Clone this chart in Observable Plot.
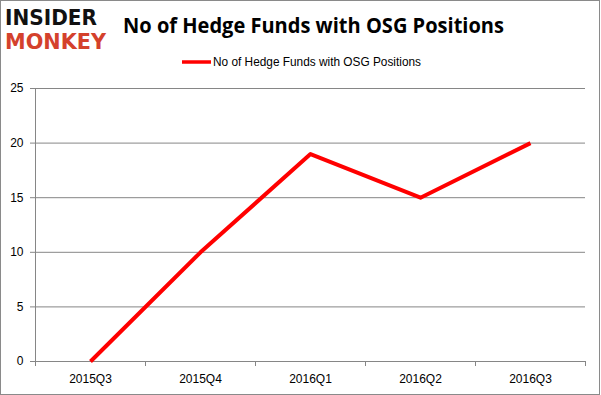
<!DOCTYPE html>
<html>
<head>
<meta charset="utf-8">
<script src="https://cdn.jsdelivr.net/npm/d3@7"></script>
<script src="https://cdn.jsdelivr.net/npm/@observablehq/plot@0.6"></script>
<style>
  html, body { margin: 0; padding: 0; background: #fff; }
  #wrap { position: relative; width: 601px; height: 395px; overflow: hidden; background: #fff; }
  #frame { position: absolute; left: 0; top: 0; width: 600px; height: 395px; box-sizing: border-box; border: 1px solid #8a8a8a; pointer-events: none; }
  #header { display: block; }
  #chart svg { display: block; }
  #chart g[aria-label*="axis"] line, #chart g[aria-label*="axis"] path { stroke: #868686; stroke-opacity: 1; }
  #chart g[aria-label*="axis"] text { fill: #000; }
</style>
</head>
<body>
<div id="wrap">
  <svg id="header" width="601" height="75">
    <text x="5" y="25" font-family="DejaVu Sans" font-weight="bold" font-size="22" fill="#111" textLength="92" lengthAdjust="spacingAndGlyphs">INSIDER</text>
    <text x="5" y="49" font-family="DejaVu Sans" font-weight="bold" font-size="22" fill="#d4412c" textLength="101" lengthAdjust="spacingAndGlyphs">MONKEY</text>
    <text x="123" y="33" font-family="Open Sans" font-weight="bold" font-size="22" fill="#000" textLength="381" lengthAdjust="spacingAndGlyphs">No of Hedge Funds with OSG Positions</text>
    <line x1="182" x2="211" y1="62" y2="62" stroke="#ff0000" stroke-width="3.5"/>
    <text x="213" y="66" font-family="Liberation Sans" font-size="12" fill="#000" textLength="208" lengthAdjust="spacingAndGlyphs">No of Hedge Funds with OSG Positions</text>
  </svg>
  <div id="chart"></div>
  <div id="frame"></div>
</div>
<script>
const quarters = ["2015Q3", "2015Q4", "2016Q1", "2016Q2", "2016Q3"];
const funds = [0, 10, 19, 15, 20];
const yTicks = [0, 5, 10, 15, 20, 25];

const data = quarters.map((q, i) => ({i, q, v: funds[i]}));
const boundaries = d3.range(quarters.length + 1).map(i => i - 0.5);

const chart = Plot.plot({
  width: 601,
  height: 320,
  marginTop: 13,
  marginBottom: 34,
  marginLeft: 35,
  marginRight: 16,
  style: {fontFamily: "'Liberation Sans', Arial, sans-serif", fontSize: "12px", color: "#000", background: "transparent"},
  x: {type: "linear", domain: [-0.5, quarters.length - 0.5], ticks: boundaries, tickFormat: () => "", tickSize: 5, label: null},
  y: {domain: [0, 25], ticks: yTicks, tickSize: 5, tickPadding: 7, label: null},
  marks: [
    Plot.ruleY(yTicks, {stroke: "#868686", strokeWidth: 1}),
    Plot.ruleX([-0.5], {stroke: "#868686", strokeWidth: 1}),
    Plot.text(data, {x: "i", y: () => 0, text: "q", dy: 18, fill: "#000", fontSize: 12}),
    Plot.line(data, {x: "i", y: "v", stroke: "#ff0000", strokeWidth: 4, strokeLinecap: "butt"})
  ]
});
document.getElementById("chart").appendChild(chart);
</script>
</body>
</html>
